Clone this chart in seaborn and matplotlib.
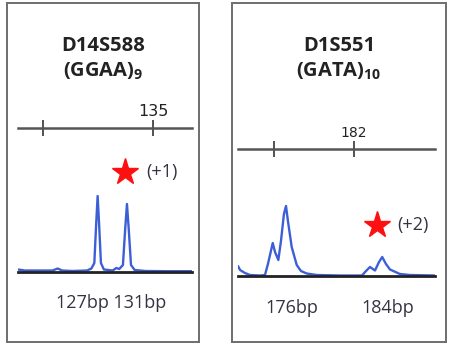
import numpy as np
import pandas as pd
import matplotlib
matplotlib.use("Agg")
import matplotlib.pyplot as plt
import seaborn as sns

sns.set_style("white")
plt.rcParams['font.family'] = ['Open Sans', 'DejaVu Sans']
plt.rcParams['mathtext.fontset'] = 'custom'
plt.rcParams['mathtext.rm'] = 'Open Sans'
plt.rcParams['mathtext.bf'] = 'Open Sans:bold'

# --- data (size in bp, signal in arbitrary units) ---
d14_bp = [116.6, 117.5, 119.0, 121.3, 122.0, 122.6, 124.0, 126.0, 126.6, 127.0,
          127.25, 127.45, 127.65, 127.9, 128.3, 129.5, 130.0, 130.4, 130.9, 131.2,
          131.45, 131.7, 132.0, 132.5, 134.0, 137.0, 140.3]
d14_signal = [2.5, 1.5, 1.5, 1.5, 3.5, 1.5, 1.0, 1.5, 3.5, 9,
              48, 76, 48, 9, 2.5, 1.5, 4, 3, 7, 42,
              68, 42, 7, 2, 1.0, 0.8, 0.8]
d14_ruler_ticks = [120, 135]
d14_ruler_labels = ['', '135']
d14_mutant_bp = [131.2]

d1_bp = [171.85, 172.03, 172.46, 172.9, 173.78, 174.21, 174.47, 174.89, 175.09, 175.38,
         175.61, 175.87, 176.05, 176.22, 176.55, 176.99, 177.36, 177.86, 178.74, 180.77,
         182.7, 183.05, 183.4, 183.84, 184.19, 184.47, 184.8, 185.15, 186.02, 186.9, 189.09]
d1_signal = [10, 6, 3, 1, 0.5, 1, 12, 33, 24, 16,
             35, 62, 70, 55, 29, 11, 5, 2.5, 1, 0.5,
             0.5, 5, 9, 5.5, 14, 19, 12, 6.5, 2, 1, 0.5]
d1_ruler_ticks = [175, 182]
d1_ruler_labels = ['', '182']
d1_mutant_bp = [184.0]

W, H = 450, 348
fig = plt.figure(figsize=(W / 100, H / 100), dpi=100)


def px_box(x0, y0, x1, y1):
    # pixel box (top-left origin) -> figure fraction rect
    return [x0 / W, 1 - y1 / H, (x1 - x0) / W, (y1 - y0) / H]


def panel(frame, data_box, bp, sig, xlim, ylim, ticks, tlabels, tick_fs,
          ruler_pos, mutant_bp, star_y, shift_txt, title, motif, sizes):
    fr = fig.add_axes(px_box(*frame))
    fr.set_xticks([])
    fr.set_yticks([])
    for s in fr.spines.values():
        s.set_color('#6e6e6e')
        s.set_linewidth(1.4)

    ax = fig.add_axes(px_box(*data_box))
    ax.patch.set_alpha(0)
    df = pd.DataFrame({'bp': bp, 'signal': sig})
    sns.lineplot(data=df, x='bp', y='signal', ax=ax, color='#3d5fd6',
                 linewidth=1.7, estimator=None, sort=False)
    ax.set_xlim(*xlim)
    ax.set_ylim(*ylim)
    ax.set_xticks([])
    ax.set_yticks([])
    ax.set_xlabel('')
    ax.set_ylabel('')
    for k in ['top', 'left', 'right']:
        ax.spines[k].set_visible(False)
    ax.spines['bottom'].set_color('#222222')
    ax.spines['bottom'].set_linewidth(2)

    # size ruler drawn as a secondary axis above the trace
    ruler = ax.secondary_xaxis(ruler_pos)
    ruler.set_xticks(ticks, tlabels)
    ruler.tick_params(direction='inout', length=11, width=1.3, colors='#444444',
                      labelsize=tick_fs, pad=1)
    for lab in ruler.get_xticklabels():
        lab.set_color('#222222')
        lab.set_fontfamily('DejaVu Sans')
    ruler.spines['top'].set_color('#555555')
    ruler.spines['top'].set_linewidth(1.8)

    ax.plot(mutant_bp, [star_y] * len(mutant_bp), marker='*', color='#ff1010',
            markersize=20, linestyle='none', clip_on=False)
    ax.annotate(shift_txt, (mutant_bp[0], star_y), xytext=(15, 0),
                textcoords='offset points', ha='left', va='center',
                fontsize=13, color='#333344', annotation_clip=False)

    cx = (frame[0] + frame[2]) / 2
    fig.text(cx / W, 1 - 46 / H, title, ha='center', va='center',
             fontsize=14.5, fontweight='bold', color='#222222')
    fig.text(cx / W, 1 - 71 / H, motif, ha='center', va='center',
             fontsize=14.5, fontweight='bold', color='#222222')
    for txt, x, y in sizes:
        fig.text(x / W, 1 - y / H, txt, ha='center', va='center',
                 fontsize=13, color='#333344')


panel((7, 3, 199, 342), (18, 100, 192, 272), d14_bp, d14_signal,
      (116.59, 140.32), (0, 172), d14_ruler_ticks, d14_ruler_labels, 11.5,
      0.837, d14_mutant_bp, 100, '(+1)', 'D14S588', r'(GGAA)$_{\mathbf{9}}$',
      [('127bp 131bp', 111, 303)])
panel((232, 3, 446, 342), (238, 100, 435, 276), d1_bp, d1_signal,
      (171.85, 189.09), (0, 176), d1_ruler_ticks, d1_ruler_labels, 10,
      0.7216, d1_mutant_bp, 51, '(+2)', 'D1S551', r'(GATA)$_{\mathbf{10}}$',
      [('176bp', 292, 308), ('184bp', 388, 308)])

fig.savefig('out.png', dpi=100)
